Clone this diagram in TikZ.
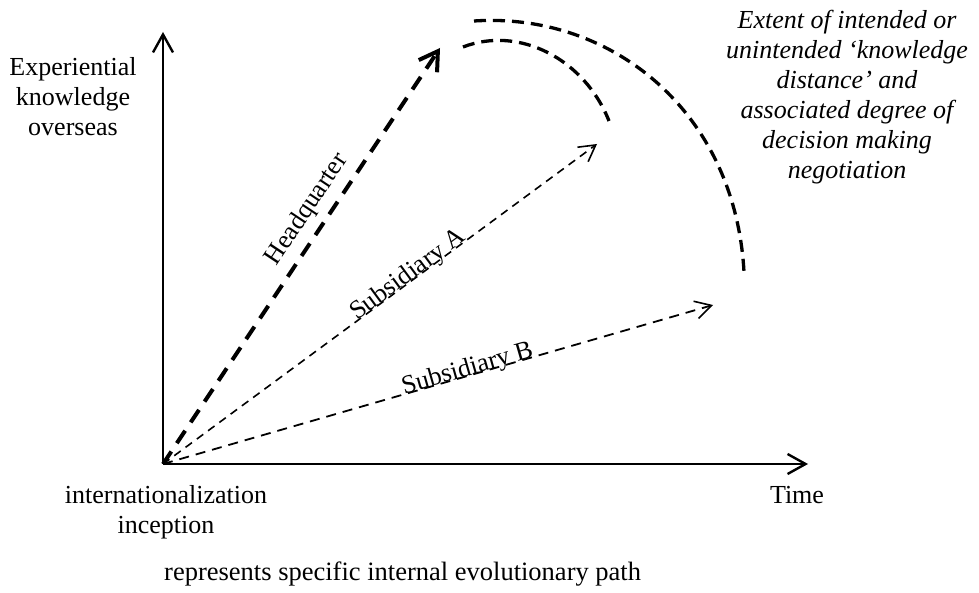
\documentclass[tikz,border=0pt]{standalone}
\usepackage{fontspec}
\setmainfont{Liberation Serif}
\usetikzlibrary{arrows.meta}
\begin{document}
\begin{tikzpicture}[x=1pt,y=1pt,
 axis/.style={line width=2.4pt, -{Straight Barb[length=18pt,width=20pt,line width=2.4pt]}},
 hq/.style={line width=4pt, dash pattern=on 15pt off 10pt, -{Straight Barb[length=18pt,width=22pt,line width=4pt]}},
 sub/.style={line width=1.6pt, dash pattern=on 8pt off 6pt, -{Straight Barb[length=16pt,width=18pt,line width=1.6pt]}},
 arcline/.style={line width=3.3pt, dash pattern=on 12pt off 7pt},
 lbl/.style={font=\fontsize{26}{30}\selectfont, inner sep=0pt},
 legendtext/.style={font=\fontsize{26.5}{30}\selectfont, inner sep=0pt},
]
\useasboundingbox (0,0) rectangle (979,592);
\coordinate (O) at (163,128);
\coordinate (Ytip) at (163,560);
\coordinate (Xtip) at (808,128);
\coordinate (HQ) at (440,544);
\coordinate (A) at (597,448);
\coordinate (B) at (713,287);
\coordinate (i1) at (463,545);
\coordinate (i2) at (609,471);
\coordinate (o1) at (474,571);
\coordinate (o2) at (744,320);
% axes
\draw[axis] (O) -- (Ytip);
\draw[axis] (O) -- (Xtip);
% paths
\draw[hq] (O) -- (HQ);
\draw[sub] (O) -- (A);
\draw[sub, line width=1.8pt, dash pattern=on 10pt off 7pt] (O) -- (B);
% labels
\path (O) -- (HQ) node[lbl, pos=0.584, sloped, above, inner sep=9pt] (hqlbl) {Headquarter};
\path (O) -- (A) node[lbl, pos=0.574, sloped, anchor=base] (albl) {Subsidiary A};
\path (O) -- (B) node[lbl, pos=0.557, sloped, anchor=base] (blbl) {Subsidiary B};
% arcs
\draw[arcline] (i1) .. controls (520,567) and (585,532) .. (i2);
\draw[arcline] (o1) .. controls (610,580) and (735,482) .. (o2);
% texts
\node[lbl, align=center, anchor=north] (exp) at (73,535) {Experiential\\knowledge\\overseas};
\node[lbl, align=center, anchor=north] (incep) at (166,107) {internationalization\\inception};
\node[lbl, anchor=base] (time) at (797,89) {Time};
\node[legendtext, anchor=base west] (legend) at (164,12) {represents specific internal evolutionary path};
\node[lbl, align=center, anchor=north, font=\fontsize{26}{30}\selectfont\itshape] (extent) at (847,582)
 {Extent of intended or\\unintended ‘knowledge\\distance’ and\\associated degree of\\decision making\\negotiation};
\end{tikzpicture}
\end{document}
